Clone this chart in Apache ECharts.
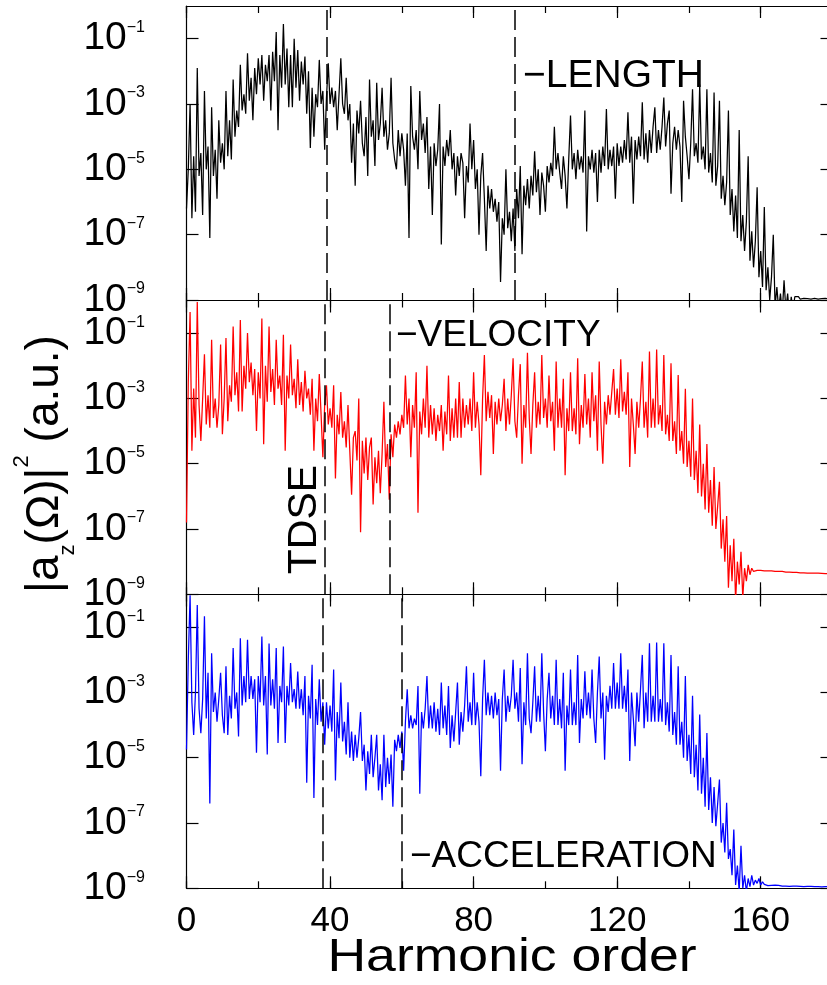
<!DOCTYPE html>
<html><head><meta charset="utf-8">
<script src="https://cdn.jsdelivr.net/npm/echarts@6/dist/echarts.min.js"></script>
<style>html,body{margin:0;padding:0;background:#fff}#c{width:827px;height:985px}</style>
</head><body><div id="c"></div>
<script>
// Harmonic grid: values every 0.5 harmonic starting at 0 (log10 of |a_z|^2)
const harmonicStart = 0;
const harmonicStep = 0.5;

const lengthLog = [
[-6.2,-5.0,-3.0,-6.5,-4.6,-6.3,-1.9,-5.2,-4.5,-6.4],
[-2.6,-5.0,-4.3,-7.1,-3.1,-5.2,-4.4,-5.9,-3.5,-4.8],
[-4.2,-5.0,-2.6,-4.6,-3.5,-4.7,-2.25,-4.0,-3.2,-3.7],
[-1.8,-3.2,-2.7,-3.3,-1.45,-2.9,-2.2,-3.5,-1.9,-2.7],
[-1.6,-2.4,-1.5,-2.9,-1.8,-2.3,-1.5,-3.2,-1.4,-2.3],
[-0.8,-3.8,-1.5,-2.5,-0.55,-2.4,-1.3,-3.1,-1.5,-3.1],
[-1.0,-2.5,-1.35,-2.9,-1.7,-2.4,-1.55,-3.3,-2.0,-4.35],
[-2.5,-4.0,-2.7,-3.1,-1.65,-3.0,-2.6,-4.4,-2.8,-1.75],
[-3.0,-2.5,-3.1,-2.6,-3.8,-2.7,-1.6,-3.0,-3.3,-2.2],
[-3.5,-3.0,-4.8,-3.6,-5.5,-3.2,-3.9,-2.9,-4.2,-4.6],
[-3.4,-5.2,-2.25,-4.0,-3.5,-4.9,-2.35,-4.1,-3.6,-2.5],
[-4.0,-3.5,-4.4,-3.9,-2.2,-4.2,-4.7,-5.0,-3.8,-4.6],
[-3.9,-4.4,-5.5,-3.9,-7.1,-2.45,-4.0,-4.4,-3.8,-5.0],
[-2.6,-4.1,-3.6,-4.5,-3.4,-5.6,-4.3,-6.4,-4.2,-4.9],
[-4.4,-3.0,-7.3,-4.3,-4.9,-4.1,-4.6,-3.8,-5.0,-4.5],
[-5.8,-4.6,-5.2,-4.5,-4.8,-6.5,-4.9,-5.4,-3.6,-5.0],
[-4.1,-5.6,-5.0,-7.0,-5.2,-4.5,-5.9,-7.5,-5.5,-6.2],
[-5.6,-6.3,-5.9,-6.6,-6.0,-8.45,-6.5,-7.0,-5.0,-6.8],
[-6.3,-7.2,-6.2,-7.5,-5.6,-6.5,-4.9,-7.6,-5.5,-6.1],
[-5.3,-6.2,-5.2,-5.8,-4.45,-5.7,-5.0,-6.4,-5.1,-5.5],
[-6.3,-4.9,-5.4,-4.8,-5.2,-3.7,-5.0,-4.5,-5.1,-5.6],
[-4.6,-5.2,-6.2,-4.7,-3.35,-5.0,-4.5,-5.3,-4.4,-5.0],
[-4.6,-5.1,-3.2,-6.9,-4.6,-5.0,-4.4,-5.1,-4.5,-6.0],
[-4.4,-5.1,-4.3,-4.9,-3.15,-5.0,-4.4,-4.9,-4.3,-5.9],
[-4.2,-4.9,-4.3,-4.8,-4.1,-4.7,-3.25,-4.8,-4.0,-6.05],
[-4.1,-4.7,-4.0,-4.6,-2.95,-4.7,-3.9,-4.8,-3.8,-4.5],
[-3.7,-3.1,-4.5,-3.8,-4.4,-3.7,-2.8,-4.3,-3.6,-3.2],
[-5.75,-4.2,-3.7,-4.4,-3.8,-4.3,-6.0,-2.9,-4.0,-4.6],
[-5.3,-4.2,-2.55,-4.6,-4.2,-4.8,-2.4,-4.7,-4.3,-5.0],
[-2.55,-5.1,-4.5,-5.4,-2.65,-5.5,-4.9,-2.9,-5.9,-5.2],
[-6.1,-5.4,-3.2,-6.4,-5.6,-6.9,-5.8,-7.1,-3.8,-7.2],
[-6.4,-7.5,-6.6,-4.6,-7.8,-6.9,-8.0,-7.2,-5.55,-8.3],
[-7.5,-8.6,-6.15,-8.7,-8.0,-9.0,-8.3,-7.0,-9.2,-8.6],
[-9.3,-8.8,-9.4,-8.4,-9.3,-8.8,-9.5,-8.9,-9.3,-8.9],
[-8.95,-8.9,-8.97,-8.92,-8.95,-8.9,-8.96,-8.93,-8.97,-8.91],
[-8.95,-8.92,-8.97,-8.93,-8.96,-8.9,-8.95,-8.93,-8.97,-8.94]
];

const velocityLog = [
[-6.8,-2.5,-0.35,-4.6,-2.7,-4.2,-0.05,-3.2,-4.3,-3.0],
[-1.65,-3.8,-2.9,-3.9,-1.2,-3.6,-3.0,-3.9,-3.2,-1.35],
[-4.1,-3.0,-1.15,-3.7,-2.6,-3.1,-0.8,-2.9,-2.2,-3.4],
[-0.6,-3.4,-2.0,-2.7,-1.0,-2.5,-1.9,-2.9,-2.1,-4.0],
[-2.2,-3.0,-0.55,-4.4,-2.0,-3.1,-0.8,-2.8,-2.1,-3.2],
[-1.2,-2.7,-2.3,-3.2,-1.05,-4.6,-2.3,-3.0,-1.35,-2.9],
[-2.4,-3.3,-1.8,-3.2,-2.5,-3.4,-2.15,-3.0,-2.7,-3.5],
[-2.4,-4.6,-3.0,-3.7,-2.25,-3.5,-4.8,-3.2,-2.6,-3.8],
[-3.3,-3.9,-2.6,-5.45,-3.5,-4.1,-2.8,-4.2,-3.7,-4.5],
[-3.2,-4.6,-5.95,-4.2,-4.0,-4.9,-3.0,-7.1,-4.3,-5.3],
[-4.2,-5.5,-4.5,-4.2,-6.25,-4.8,-5.6,-4.6,-5.9,-4.7],
[-3.1,-5.1,-4.4,-6.1,-4.1,-4.8,-3.8,-4.2,-3.7,-4.1],
[-3.5,-3.9,-2.3,-3.8,-3.0,-4.8,-3.2,-3.9,-2.2,-6.5],
[-3.4,-4.1,-3.0,-3.9,-2.0,-4.2,-3.2,-4.1,-3.3,-4.3],
[-3.5,-4.0,-3.2,-4.6,-3.4,-4.1,-2.3,-4.3,-3.3,-4.2],
[-3.0,-4.2,-2.5,-4.2,-3.0,-3.9,-3.2,-3.8,-3.0,-4.0],
[-2.2,-3.9,-3.1,-3.8,-5.35,-3.0,-1.67,-3.7,-2.8,-3.6],
[-2.9,-4.7,-3.1,-3.8,-3.0,-3.7,-3.2,-2.4,-4.0,-3.0],
[-3.8,-2.9,-1.77,-3.7,-4.2,-2.9,-1.95,-5.0,-3.2,-3.9],
[-1.6,-3.6,-4.7,-3.2,-2.2,-3.9,-3.1,-3.8,-1.67,-3.6],
[-3.0,-3.9,-2.3,-3.7,-3.1,-4.6,-1.87,-3.9,-3.0,-3.9],
[-2.4,-5.35,-3.3,-4.0,-2.2,-4.0,-3.3,-4.1,-1.77,-4.4],
[-3.2,-3.9,-2.25,-3.8,-3.0,-4.2,-2.2,-3.7,-2.9,-4.6],
[-1.87,-3.8,-5.0,-3.1,-3.8,-2.9,-3.5,-2.8,-2.1,-3.5],
[-2.7,-3.6,-1.8,-3.4,-2.8,-3.5,-2.2,-5.1,-3.0,-3.8],
[-4.7,-3.1,-3.9,-3.0,-1.87,-3.9,-3.1,-4.2,-1.56,-3.9],
[-3.0,-3.9,-1.5,-3.8,-3.2,-4.0,-1.67,-4.1,-3.5,-4.3],
[-1.92,-4.3,-3.7,-4.7,-2.28,-4.6,-4.0,-5.0,-2.7,-5.1],
[-4.3,-5.4,-3.0,-5.5,-4.6,-5.9,-3.8,-6.0,-5.0,-6.4],
[-4.4,-6.5,-5.5,-6.9,-5.1,-7.0,-6.3,-5.55,-7.6,-6.7],
[-8.0,-6.6,-8.8,-7.5,-8.6,-7.3,-9.2,-8.0,-8.7,-7.7],
[-9.1,-8.2,-8.6,-8.1,-8.4,-8.2,-8.3,-8.25,-8.27,-8.26],
[-8.27,-8.26,-8.28,-8.27,-8.28,-8.29,-8.28,-8.29,-8.3,-8.29],
[-8.3,-8.31,-8.3,-8.31,-8.32,-8.31,-8.32,-8.32,-8.33,-8.32],
[-8.33,-8.33,-8.34,-8.33,-8.34,-8.34,-8.35,-8.34,-8.35,-8.35],
[-8.35,-8.36,-8.35,-8.36,-8.36,-8.36,-8.37,-8.36,-8.37,-8.37]
];

const accelerationLog = [
[-4.75,-2.0,-0.02,-3.3,-4.3,-3.0,-0.32,-3.5,-4.25,-3.2],
[-0.67,-3.8,-2.4,-6.4,-1.8,-3.6,-3.0,-3.9,-3.2,-2.4],
[-3.7,-4.25,-2.2,-4.3,-3.1,-3.8,-1.64,-3.5,-3.0,-4.35],
[-1.34,-3.4,-2.5,-3.3,-1.39,-3.2,-2.5,-3.2,-2.6,-4.85],
[-2.5,-3.3,-1.29,-3.4,-2.5,-4.9,-1.5,-3.4,-2.6,-3.5],
[-1.64,-4.55,-2.8,-3.3,-1.59,-4.55,-2.8,-3.4,-2.1,-3.3],
[-2.9,-3.5,-2.36,-3.5,-2.9,-3.7,-2.5,-5.77,-3.1,-3.8],
[-2.15,-6.23,-3.2,-4.0,-2.6,-3.9,-3.3,-4.6,-3.3,-4.1],
[-3.4,-4.2,-2.3,-5.7,-3.6,-4.4,-2.7,-4.5,-3.9,-4.9],
[-3.3,-5.0,-4.2,-5.1,-4.3,-5.0,-4.4,-3.6,-5.1,-4.6],
[-6.0,-4.8,-5.5,-4.3,-5.6,-5.0,-4.3,-6.0,-5.2,-6.3],
[-4.3,-5.9,-5.0,-5.8,-4.9,-6.5,-4.45,-4.8,-4.3,-4.7],
[-4.2,-5.4,-3.9,-2.9,-4.1,-3.7,-4.1,-3.8,-4.0,-2.8],
[-6.1,-3.6,-4.1,-3.5,-2.5,-4.1,-3.4,-4.1,-3.3,-4.2],
[-3.5,-4.3,-2.7,-4.1,-3.4,-4.3,-2.8,-4.7,-3.7,-4.5],
[-3.6,-2.7,-4.6,-3.6,-4.2,-3.4,-2.2,-3.9,-3.3,-4.0],
[-2.4,-4.0,-3.3,-3.9,-5.57,-3.2,-2.0,-3.7,-3.0,-3.7],
[-3.1,-3.8,-3.0,-3.7,-3.2,-5.4,-3.2,-2.3,-3.9,-3.1],
[-3.6,-3.1,-2.0,-3.5,-3.0,-3.9,-2.25,-5.2,-3.3,-4.0],
[-1.8,-3.8,-4.25,-3.3,-2.2,-3.9,-3.1,-3.9,-1.8,-3.6],
[-4.8,-3.2,-2.4,-3.8,-3.1,-4.0,-2.0,-4.0,-3.2,-4.1],
[-2.4,-5.4,-3.4,-4.0,-2.3,-4.0,-3.3,-4.0,-1.85,-4.55],
[-3.2,-3.8,-2.35,-3.7,-3.0,-3.8,-2.3,-3.8,-4.55,-3.0],
[-1.9,-3.8,-3.0,-5.06,-3.1,-3.6,-2.8,-3.5,-2.1,-3.5],
[-2.7,-3.5,-1.8,-3.5,-2.8,-3.6,-2.3,-5.1,-3.0,-3.8],
[-4.65,-3.0,-3.9,-2.9,-1.85,-4.1,-3.0,-3.9,-1.49,-3.9],
[-3.1,-3.9,-1.47,-3.9,-3.2,-3.9,-1.49,-4.0,-3.3,-4.2],
[-1.85,-4.3,-3.6,-4.6,-2.2,-4.6,-3.9,-5.0,-2.5,-5.1],
[-4.3,-5.5,-3.1,-5.6,-4.6,-6.0,-3.68,-6.1,-5.0,-6.5],
[-4.24,-6.6,-5.6,-7.0,-5.9,-7.1,-6.4,-5.67,-7.6,-7.0],
[-7.9,-6.38,-8.1,-7.8,-8.6,-7.2,-8.9,-8.3,-9.1,-7.7],
[-9.0,-8.6,-9.1,-8.7,-8.95,-8.6,-8.9,-8.75,-8.85,-8.7],
[-8.9,-8.8,-8.88,-8.9,-8.92,-8.9,-8.91,-8.92,-8.9,-8.93],
[-8.91,-8.92,-8.93,-8.92,-8.93,-8.92,-8.94,-8.93,-8.93,-8.94],
[-8.93,-8.94,-8.94,-8.93,-8.95,-8.94,-8.94,-8.95,-8.94,-8.95],
[-8.95,-8.94,-8.95,-8.95,-8.96,-8.95,-8.95,-8.96,-8.95,-8.96]
];

const xTickLabels = [0, 40, 80, 120, 160];
const yTickExponents = [-9, -7, -5, -3, -1];
const dashLength = [39, 91.5];
const dashVelocity = [38.5, 56.5];
const dashAcceleration = [38, 60];
const panelNames = ['\u2212LENGTH', '\u2212VELOCITY', '\u2212ACCELERATION'];
const panelColors = ['#000000', '#ff0000', '#0000ff'];

const FONT = '"Liberation Sans", Arial, Helvetica, sans-serif';

function toPoints(rows) {
  const pts = [];
  rows.forEach(r => r.forEach(v => { pts.push([harmonicStart + pts.length * harmonicStep, v]); }));
  return pts;
}
[lengthLog, velocityLog, accelerationLog].forEach((rows, s) => rows.forEach((r, k) => {
  if (r.length !== 10) console.error('series ' + s + ' row ' + k + ' has ' + r.length);
}));

const seriesRows = [lengthLog, velocityLog, accelerationLog];
const dashes = [dashLength, dashVelocity, dashAcceleration];

const grids = [
  {left: 186.5, right: -5.5, top: 6, height: 294},
  {left: 186.5, right: -5.5, top: 300.5, height: 293.8},
  {left: 186.5, right: -5.5, top: 594.5, height: 293.8}
].map(g => Object.assign(g, {outerBoundsMode: 'none', containLabel: false}));

const lineCol = '#000';
const xAxes = [], yAxes = [], series = [];
for (let i = 0; i < 3; i++) {
  const base = {type: 'value', min: 0, max: 180, gridIndex: i, splitLine: {show: false}, axisPointer: {show: false}};
  const lineOn = {show: true, onZero: false, lineStyle: {color: lineCol, width: 1.2}};
  const lineOff = {show: false, onZero: false};
  xAxes.push(Object.assign({}, base, {
    position: 'bottom', interval: 20, axisLine: lineOn,
    axisTick: {inside: true, length: 7, lineStyle: {color: lineCol, width: 1.2}},
    axisLabel: i === 2 ? {show: true, customValues: xTickLabels, fontSize: 35, fontFamily: FONT, color: '#000', margin: 16} : {show: false}
  }));
  xAxes.push(Object.assign({}, base, {
    position: 'bottom', axisLine: lineOff,
    axisTick: {inside: true, length: 12, customValues: xTickLabels, lineStyle: {color: lineCol, width: 1.2}},
    axisLabel: {show: false}
  }));
  xAxes.push(Object.assign({}, base, {
    position: 'top', interval: 20, axisLine: lineOn,
    axisTick: {inside: true, length: 7, lineStyle: {color: lineCol, width: 1.2}},
    axisLabel: {show: false}
  }));
  xAxes.push(Object.assign({}, base, {
    position: 'top', axisLine: lineOff,
    axisTick: {inside: true, length: 12, customValues: xTickLabels, lineStyle: {color: lineCol, width: 1.2}},
    axisLabel: {show: false}
  }));
  const ybase = {type: 'value', min: -9, max: 0, gridIndex: i, splitLine: {show: false}, axisPointer: {show: false}};
  yAxes.push(Object.assign({}, ybase, {
    position: 'left', axisLine: lineOn,
    axisTick: {inside: true, length: 12, customValues: yTickExponents, lineStyle: {color: lineCol, width: 1.2}},
    axisLabel: {
      show: true, customValues: yTickExponents, margin: 41.5,
      formatter: v => '{b|10}{s|' + (v < 0 ? '\u2212' + Math.abs(v) : String(v)) + '}',
      rich: {
        b: {fontSize: 39, fontFamily: FONT, color: '#000', lineHeight: 38},
        s: {fontSize: 16, fontFamily: FONT, color: '#000', verticalAlign: 'top', lineHeight: 16}
      }
    }
  }));
  yAxes.push(Object.assign({}, ybase, {
    position: 'right', axisLine: lineOn,
    axisTick: {inside: true, length: 12, customValues: yTickExponents, lineStyle: {color: lineCol, width: 1.2}},
    axisLabel: {show: false}
  }));
  series.push({
    type: 'line', name: panelNames[i], xAxisIndex: i * 4, yAxisIndex: i * 2,
    data: toPoints(seriesRows[i]), showSymbol: false, symbol: 'none', clip: true,
    color: panelColors[i], lineStyle: {width: 1.25, color: panelColors[i]},
    animation: false, silent: true,
    markLine: {
      silent: true, symbol: ['none', 'none'], animation: false,
      label: {show: false},
      lineStyle: {color: '#000', type: [20, 7], width: 1.5},
      data: dashes[i].map(x => ({xAxis: x}))
    }
  });
}

const chart = echarts.init(document.getElementById('c'), null, {renderer: 'canvas'});
chart.setOption({
  animation: false,
  backgroundColor: '#fff',
  grid: grids,
  xAxis: xAxes,
  yAxis: yAxes,
  series: series,
  graphic: [
    {type: 'text', x: 523, y: 76.5, z: 100, style: {text: panelNames[0], fontSize: 39, fontFamily: FONT, fill: '#000', textAlign: 'left', textVerticalAlign: 'middle'}},
    {type: 'text', x: 396, y: 336, z: 100, style: {text: panelNames[1], fontSize: 37, fontFamily: FONT, fill: '#000', textAlign: 'left', textVerticalAlign: 'middle'}},
    {type: 'text', x: 410, y: 857, z: 100, style: {text: panelNames[2], fontSize: 37, fontFamily: FONT, fill: '#000', textAlign: 'left', textVerticalAlign: 'middle'}},
    {type: 'text', x: 305, y: 519.5, rotation: Math.PI / 2, z: 100, style: {text: 'TDSE', fontSize: 41, fontFamily: FONT, fill: '#000', textAlign: 'center', textVerticalAlign: 'middle'}},
    {type: 'text', x: 512, y: 958.5, scaleX: 1.14, z: 100, style: {text: 'Harmonic order', fontSize: 47, fontFamily: FONT, fill: '#000', textAlign: 'center', textVerticalAlign: 'middle'}},
    {type: 'text', x: 45, y: 464, rotation: Math.PI / 2, z: 100, style: {
      text: '{m||a}{z|z}{m|(\u03A9)|}{p|2}{m| (a.u.)}',
      textAlign: 'center', textVerticalAlign: 'middle', fill: '#000',
      fontSize: 46, fontFamily: FONT,
      rich: {
        m: {fontSize: 46, fontFamily: FONT, lineHeight: 68},
        z: {fontSize: 22, fontFamily: FONT, lineHeight: 22, verticalAlign: 'bottom'},
        p: {fontSize: 22, fontFamily: FONT, lineHeight: 22, verticalAlign: 'top'}
      }
    }}
  ]
});
</script>
</body></html>
